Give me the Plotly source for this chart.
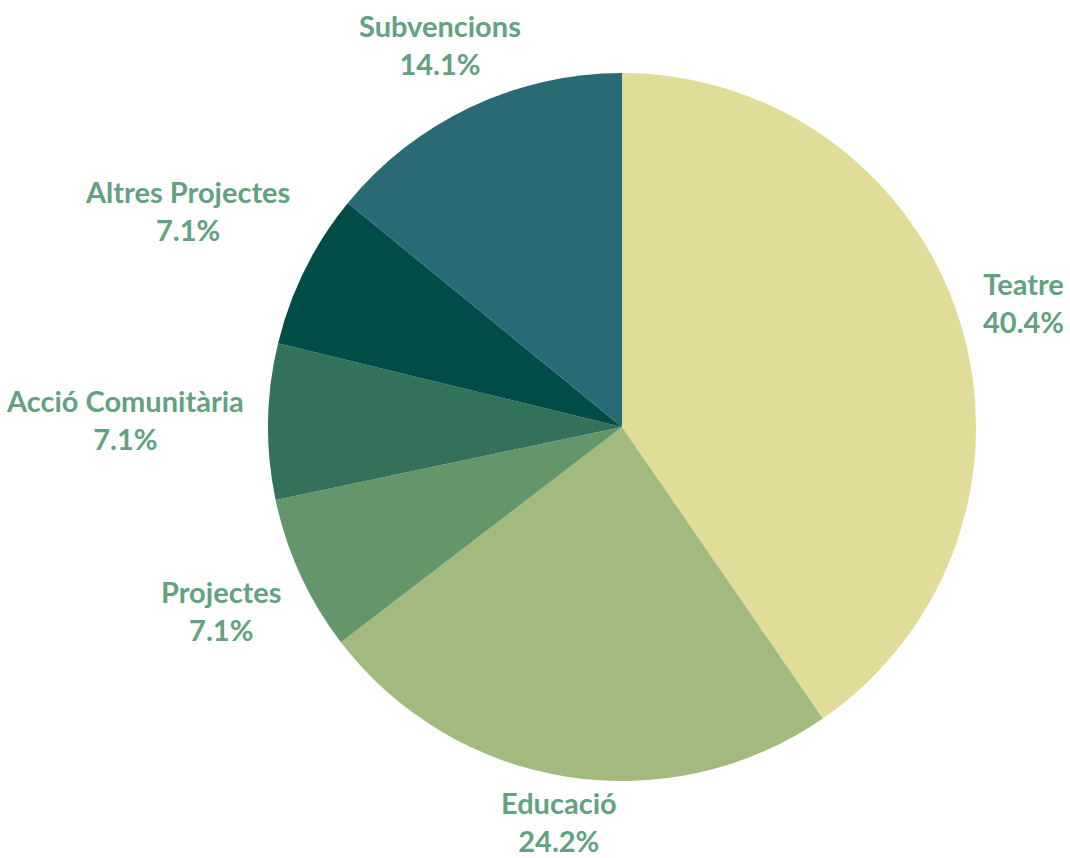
import math
import plotly.graph_objects as go

labels = ["Teatre", "Educació", "Projectes", "Acció Comunitària", "Altres Projectes", "Subvencions"]
values = [40.4, 24.2, 7.1, 7.1, 7.1, 14.1]
colors = ["#E1DC97", "#A2BA7E", "#64956B", "#33715A", "#014C47", "#296B75"]

W, H = 1070, 858
FONT_SIZE = 29
LABEL_COLOR = "#62A182"
FONT_FAMILY = "Lato, Nunito, sans-serif"

# pie geometry (pixels, from top-left)
CX, CY, R = 622, 427, 354
OFFSET = 20
HALF_H = 17

dom_x = [(CX - R) / W, (CX + R) / W]
dom_y = [(H - CY - R) / H, (H - CY + R) / H]

fig = go.Figure(go.Pie(
    labels=labels,
    values=values,
    sort=False,
    direction="clockwise",
    rotation=0,
    marker=dict(colors=colors, line=dict(width=0)),
    textinfo="none",
    showlegend=False,
    domain=dict(x=dom_x, y=dom_y),
    hoverinfo="label+percent",
))

total = sum(values)
cum = 0.0
for lab, val in zip(labels, values):
    mid = (cum + val / 2) / total
    cum += val
    theta = 2 * math.pi * mid
    vx, vy = math.sin(theta), math.cos(theta)
    pct = f"{val / total * 100:.1f}%"
    lines = [lab, pct]
    half_w = max(len(s) for s in lines) * 0.5 * FONT_SIZE / 2
    dist = R + OFFSET + half_w * abs(vx) + HALF_H * abs(vy)
    px = CX + vx * dist
    py = (H - CY) + vy * dist
    fig.add_annotation(
        x=px / W, y=py / H, xref="paper", yref="paper",
        text=f"<b>{lab}</b><br><b>{pct}</b>",
        showarrow=False,
        xanchor="center", yanchor="middle",
        align="center",
        font=dict(family=FONT_FAMILY, size=FONT_SIZE, color=LABEL_COLOR),
    )

fig.update_layout(
    width=W, height=H,
    margin=dict(l=0, r=0, t=0, b=0),
    paper_bgcolor="white",
    plot_bgcolor="white",
)
fig.write_html(
    "out.html",
    config={"displayModeBar": False},
    post_script="document.body.style.margin='0';",
)
